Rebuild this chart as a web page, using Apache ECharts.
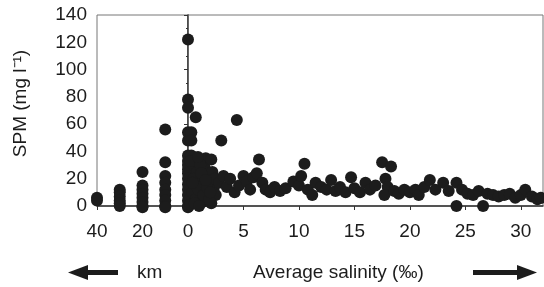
<!DOCTYPE html>
<html>
<head>
<meta charset="utf-8">
<script src="https://cdn.jsdelivr.net/npm/echarts@6/dist/echarts.min.js"></script>
<style>
  html, body { margin: 0; padding: 0; background: #fff; }
  #chart { width: 544px; height: 287px; }
</style>
</head>
<body>
<div id="chart"></div>
<script>
// river stations upstream (km from mouth) -> SPM
const kmPoints = [
  [40, 6], [40, 4],
  [30, 12], [30, 10], [30, 7], [30, 4], [30, 2], [30, 0],
  [20, 25], [20, 15], [20, 12], [20, 9], [20, 6], [20, 3], [20, 0], [20, -1],
  [10, 56], [10, 32], [10, 22], [10, 17], [10, 12], [10, 8], [10, 4], [10, 0], [10, -1],
  [0, 122], [0, 78], [0, 72], [0, 54], [0, 48], [0, 37], [0, 33], [0, 30], [0, 27],
  [0, 24], [0, 20], [0, 16], [0, 12], [0, 8], [0, 4], [0, 0], [0, -1]
]

// estuary samples: average salinity -> SPM
const salinityPoints = [
  [0.3, 37], [0.5, 30], [0.8, 25], [1, 20], [1.2, 15], [0.4, 10], [0.7, 5], [1.5, 28],
  [1.8, 22], [2, 18], [2.3, 12], [2.5, 8], [1.3, 3], [2.1, 2], [0.2, 1], [1.6, 35],
  [0.2, 33], [0.5, 20], [0.9, 12], [1.1, 30], [1.4, 8], [1.7, 14], [1.9, 5], [2.2, 25],
  [0.6, 2], [1, 0], [2.4, 20], [0.4, 17], [1.2, 24], [2, 10], [0.9, 36], [1.6, 19],
  [0.7, 65], [0.3, 54], [0.3, 48], [2.1, 34], [3.0, 48], [4.4, 63], [2.8, 17], [3.2, 22],
  [3.5, 14], [3.8, 20], [4.2, 10], [4.6, 15], [5.0, 22], [5.3, 18], [5.6, 12], [5.9, 21],
  [6.4, 34], [6.2, 24], [6.7, 17], [7, 12], [7.4, 10], [7.8, 14], [8.3, 11], [8.8, 13],
  [9.5, 18], [10, 15], [10.5, 31], [10.2, 22], [10.8, 12], [11.2, 8], [11.5, 17], [12, 14],
  [12.5, 12], [12.9, 19], [13.3, 11], [13.7, 14], [14.2, 10], [14.7, 21], [15, 13], [15.5, 10],
  [16, 17], [16.4, 12], [16.9, 15], [17.5, 32], [18.3, 29], [17.8, 20], [18, 14], [17.7, 8],
  [18.6, 11], [19, 9], [19.5, 12], [20, 10], [20.5, 12], [20.8, 8], [21.3, 14], [21.8, 19],
  [22.3, 12], [23, 17], [23.5, 11], [24.2, 17], [24.2, 0], [24.7, 12], [25.2, 9], [25.7, 8],
  [26.2, 11], [26.6, 0], [27, 9], [27.5, 8], [28, 7], [28.5, 8], [29, 9], [29.5, 6],
  [30, 8], [30.4, 12], [31, 7], [31.5, 5], [31.8, 6]
]

const kmLabels = [40, 20, 0]
const salinityLabels = [5, 10, 15, 20, 25, 30]

const font = 'Liberation Sans'
const ink = '#1c1c1c'
const fs = 19

const chart = echarts.init(document.getElementById('chart'))

chart.setOption({
  animation: false,
  grid: [
    { left: 97, top: 15, width: 91, height: 191, show: true, borderColor: '#777', borderWidth: 1 },
    { left: 188, top: 15, width: 355, height: 191, show: true, borderColor: '#777', borderWidth: 1 }
  ],
  xAxis: [
    {
      gridIndex: 0,
      type: 'value',
      inverse: true,
      min: 0,
      max: 40,
      interval: 10,
      splitLine: { show: false },
      axisLine: { lineStyle: { color: '#333', width: 1.5 } },
      axisTick: { inside: false, length: 4, lineStyle: { color: '#333' } },
      axisLabel: {
        margin: 16,
        fontFamily: font,
        fontSize: fs,
        color: ink,
        formatter: v => kmLabels.includes(v) ? String(v) : ''
      }
    },
    {
      gridIndex: 1,
      type: 'value',
      min: 0,
      max: 32,
      interval: 5,
      splitLine: { show: false },
      axisLine: { lineStyle: { color: '#333', width: 1.5 } },
      axisTick: { inside: false, length: 4, lineStyle: { color: '#333' } },
      axisLabel: {
        margin: 16,
        fontFamily: font,
        fontSize: fs,
        color: ink,
        showMaxLabel: false,
        formatter: v => salinityLabels.includes(v) ? String(v) : ''
      }
    }
  ],
  yAxis: [
    {
      gridIndex: 0,
      type: 'value',
      min: 0,
      max: 140,
      interval: 20,
      name: 'SPM (mg l\u207B\u00B9)',
      nameLocation: 'middle',
      nameGap: 67,
      nameTextStyle: { fontFamily: font, fontSize: fs, color: ink, padding: [0, 0, 0, 14] },
      splitLine: { show: false },
      axisLine: { lineStyle: { color: '#333', width: 1.5 } },
      axisTick: { length: 4, lineStyle: { color: '#333' } },
      minorTick: { show: true, splitNumber: 2, length: 2, lineStyle: { color: '#333' } },
      axisLabel: { margin: 10, fontFamily: font, fontSize: fs, color: ink }
    },
    {
      gridIndex: 1,
      type: 'value',
      min: 0,
      max: 140,
      show: true,
      splitLine: { show: false },
      axisLine: { lineStyle: { color: '#666', width: 1 } },
      axisTick: { show: false },
      axisLabel: { show: false }
    }
  ],
  series: [
    {
      type: 'scatter',
      xAxisIndex: 0,
      yAxisIndex: 0,
      data: kmPoints,
      symbolSize: 12,
      clip: false,
      itemStyle: { color: ink, opacity: 1 }
    },
    {
      type: 'scatter',
      xAxisIndex: 1,
      yAxisIndex: 1,
      data: salinityPoints,
      symbolSize: 12,
      clip: false,
      itemStyle: { color: ink, opacity: 1 }
    }
  ],
  graphic: [
    // left arrow + km
    { type: 'rect', shape: { x: 86, y: 270, width: 32, height: 5 }, style: { fill: ink } },
    { type: 'polygon', shape: { points: [[68, 272.5], [88, 265], [88, 280]] }, style: { fill: ink } },
    { type: 'text', x: 137, y: 273, style: { text: 'km', font: fs + 'px ' + font, fill: ink, verticalAlign: 'middle' } },
    // salinity caption + right arrow
    { type: 'text', x: 253, y: 273, style: { text: 'Average salinity (\u2030)', font: fs + 'px ' + font, fill: ink, verticalAlign: 'middle' } },
    { type: 'rect', shape: { x: 473, y: 270, width: 46, height: 5 }, style: { fill: ink } },
    { type: 'polygon', shape: { points: [[537, 272.5], [517, 265], [517, 280]] }, style: { fill: ink } }
  ]
})
</script>
</body>
</html>
